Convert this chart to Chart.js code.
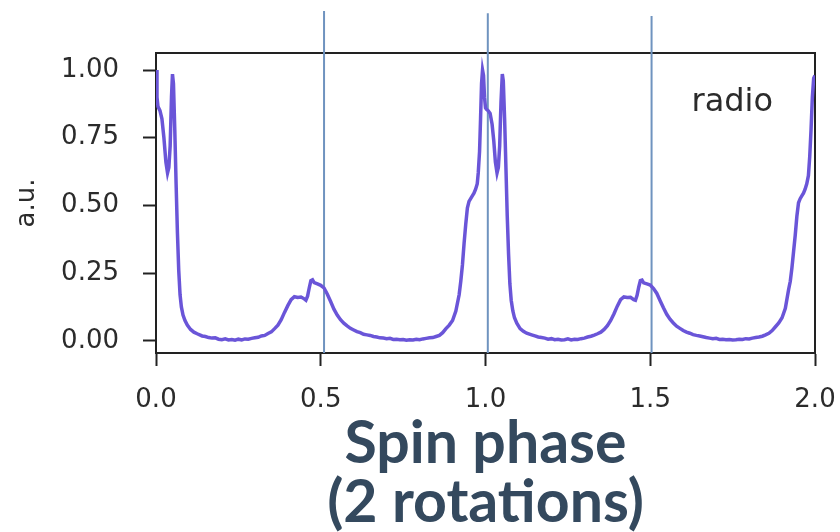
<!DOCTYPE html>
<html>
<head>
<meta charset="utf-8">
<script src="https://cdn.jsdelivr.net/npm/chart.js@4.4.1/dist/chart.umd.min.js"></script>
<style>
    body { margin: 0; background: #fff; }
    canvas { display: block; }
</style>
</head>
<body>
<canvas id="radioChart" width="840" height="532"></canvas>
<script>
// spin phase (two rotations) and the radio pulse profile
const phase = [
    0.000, 0.003, 0.006, 0.012, 0.018, 0.024, 0.030, 0.035, 0.039, 0.043, 0.047, 0.050, 0.053, 0.057,
    0.061, 0.065, 0.069, 0.073, 0.077, 0.082, 0.088, 0.095, 0.105, 0.115, 0.125, 0.14, 0.15, 0.16,
    0.17, 0.18, 0.19, 0.20, 0.21, 0.22, 0.23, 0.24, 0.25, 0.26, 0.27, 0.28, 0.29, 0.30, 0.31, 0.32,
    0.33, 0.34, 0.35, 0.36, 0.37, 0.38, 0.39, 0.40, 0.41, 0.42, 0.43, 0.44, 0.45, 0.455, 0.46, 0.465,
    0.47, 0.475, 0.48, 0.49, 0.50, 0.51, 0.52, 0.53, 0.54, 0.55, 0.56, 0.57, 0.58, 0.59, 0.60, 0.61,
    0.62, 0.63, 0.64, 0.65, 0.66, 0.67, 0.68, 0.69, 0.70, 0.71, 0.72, 0.73, 0.74, 0.75, 0.76, 0.77,
    0.78, 0.79, 0.80, 0.81, 0.82, 0.83, 0.84, 0.85, 0.86, 0.87, 0.88, 0.89, 0.90, 0.91, 0.92, 0.925,
    0.93, 0.935, 0.94, 0.945, 0.950, 0.955, 0.960, 0.965, 0.970, 0.975, 0.978, 0.982, 0.985, 0.988,
    0.991, 0.994, 0.997, 1.000,
    1.003, 1.008, 1.014, 1.020, 1.025, 1.030, 1.035, 1.039, 1.043, 1.047, 1.051, 1.054, 1.058, 1.062,
    1.066, 1.070, 1.074, 1.078, 1.083, 1.088, 1.095, 1.105, 1.115, 1.125, 1.14, 1.15, 1.16, 1.17,
    1.18, 1.19, 1.20, 1.21, 1.22, 1.23, 1.24, 1.25, 1.26, 1.27, 1.28, 1.29, 1.30, 1.31, 1.32, 1.33,
    1.34, 1.35, 1.36, 1.37, 1.38, 1.39, 1.40, 1.41, 1.42, 1.43, 1.44, 1.45, 1.455, 1.46, 1.465, 1.47,
    1.475, 1.48, 1.49, 1.50, 1.51, 1.52, 1.53, 1.54, 1.55, 1.56, 1.57, 1.58, 1.59, 1.60, 1.61, 1.62,
    1.63, 1.64, 1.65, 1.66, 1.67, 1.68, 1.69, 1.70, 1.71, 1.72, 1.73, 1.74, 1.75, 1.76, 1.77, 1.78,
    1.79, 1.80, 1.81, 1.82, 1.83, 1.84, 1.85, 1.86, 1.87, 1.88, 1.89, 1.90, 1.91, 1.92, 1.925, 1.93,
    1.935, 1.94, 1.945, 1.950, 1.955, 1.960, 1.965, 1.970, 1.975, 1.980, 1.984, 1.988, 1.992, 1.996,
    2.000
];
const radio = [
    1.00, 0.90, 0.865, 0.85, 0.82, 0.75, 0.66, 0.62, 0.64, 0.72, 0.90, 0.985, 0.95, 0.78,
    0.58, 0.40, 0.26, 0.17, 0.125, 0.095, 0.075, 0.058, 0.042, 0.032, 0.026, 0.018, 0.016, 0.012,
    0.010, 0.011, 0.006, 0.004, 0.007, 0.003, 0.005, 0.002, 0.006, 0.003, 0.007, 0.006, 0.009, 0.011, 0.013, 0.018,
    0.020, 0.027, 0.033, 0.045, 0.058, 0.078, 0.105, 0.13, 0.152, 0.163, 0.160, 0.162, 0.155, 0.150, 0.165, 0.195,
    0.222, 0.225, 0.215, 0.210, 0.205, 0.195, 0.172, 0.145, 0.117, 0.095, 0.078, 0.065, 0.055, 0.046, 0.040, 0.034,
    0.030, 0.024, 0.022, 0.020, 0.016, 0.014, 0.011, 0.010, 0.008, 0.009, 0.005, 0.006, 0.004, 0.005, 0.002, 0.004,
    0.003, 0.006, 0.004, 0.007, 0.009, 0.011, 0.012, 0.016, 0.020, 0.030, 0.045, 0.058, 0.075, 0.11, 0.17, 0.22,
    0.28, 0.36, 0.43, 0.49, 0.515, 0.525, 0.535, 0.545, 0.56, 0.58, 0.62, 0.70, 0.82, 0.95,
    1.00, 0.98, 0.90, 0.86,
    0.855, 0.85, 0.84, 0.80, 0.74, 0.66, 0.62, 0.64, 0.72, 0.88, 0.985, 0.96, 0.82, 0.64,
    0.46, 0.32, 0.21, 0.15, 0.11, 0.085, 0.065, 0.045, 0.035, 0.028, 0.022, 0.018, 0.014, 0.012,
    0.010, 0.006, 0.008, 0.004, 0.006, 0.003, 0.004, 0.007, 0.003, 0.006, 0.005, 0.008, 0.010, 0.014, 0.017, 0.021,
    0.026, 0.032, 0.042, 0.056, 0.075, 0.10, 0.128, 0.152, 0.162, 0.160, 0.161, 0.152, 0.150, 0.168, 0.198, 0.222,
    0.224, 0.214, 0.210, 0.206, 0.193, 0.175, 0.148, 0.122, 0.098, 0.080, 0.066, 0.054, 0.046, 0.038, 0.032, 0.028,
    0.023, 0.020, 0.018, 0.015, 0.012, 0.010, 0.008, 0.009, 0.005, 0.006, 0.004, 0.005, 0.003, 0.004, 0.006, 0.005,
    0.008, 0.007, 0.010, 0.012, 0.014, 0.017, 0.022, 0.028, 0.038, 0.052, 0.066, 0.085, 0.12, 0.19, 0.22, 0.27,
    0.33, 0.39, 0.46, 0.51, 0.525, 0.535, 0.545, 0.56, 0.58, 0.61, 0.68, 0.78, 0.90, 0.97,
    0.98
];

// half-rotation markers drawn over the plot (where they sit in the picture)
const markerPhase = [0.51, 1.007, 1.504];
const markerTop = [1.218, 1.21, 1.20];

const xTicks = [0, 0.5, 1.0, 1.5, 2.0];
const yTicks = [0, 0.25, 0.5, 0.75, 1.0];
const Y_MIN = -0.045, Y_MAX = 1.063;

const AXIS_COLOR = '#222';
const TEXT_COLOR = '#2b2b2b';

const markerSets = markerPhase.map((p, i) => ({
    data: [{ x: p, y: Y_MIN }, { x: p, y: markerTop[i] }],
    borderColor: '#6f93bf',
    borderWidth: 2,
    pointRadius: 0,
    clip: false
}));

// matplotlib style closed frame
const framePlugin = {
    id: 'frame',
    beforeDatasetsDraw(chart) {
        const { ctx, chartArea: a } = chart;
        ctx.save();
        ctx.strokeStyle = AXIS_COLOR;
        ctx.lineWidth = 2;
        ctx.strokeRect(a.left, a.top, a.right - a.left, a.bottom - a.top);
        ctx.restore();
    }
};

// the "radio" tag in the upper right corner
const labelPlugin = {
    id: 'radioLabel',
    afterDraw(chart) {
        const { ctx, scales } = chart;
        ctx.save();
        ctx.font = "32px 'DejaVu Sans'";
        ctx.fillStyle = TEXT_COLOR;
        ctx.textAlign = 'center';
        ctx.textBaseline = 'middle';
        ctx.fillText('radio', scales.x.getPixelForValue(1.749), scales.y.getPixelForValue(0.878));
        ctx.restore();
    }
};

new Chart(document.getElementById('radioChart'), {
    type: 'line',
    data: {
        datasets: [{
            data: phase.map((p, i) => ({ x: p, y: radio[i] })),
            borderColor: '#6a55d8',
            borderWidth: 3.5,
            pointRadius: 0,
            tension: 0
        }, ...markerSets]
    },
    options: {
        responsive: false,
        animation: false,
        layout: { padding: { top: 53, right: 25, left: 0, bottom: 0 } },
        plugins: {
            legend: { display: false },
            tooltip: { enabled: false }
        },
        scales: {
            x: {
                type: 'linear',
                min: 0,
                max: 2,
                afterBuildTicks: s => { s.ticks = xTicks.map(v => ({ value: v })); },
                afterFit: s => {
                    s.height = 179;
                    // keep the tick label overhang from shrinking the plot
                    s.paddingLeft = 0;
                    s.paddingRight = 0;
                },
                ticks: {
                    callback: v => v.toFixed(1),
                    color: TEXT_COLOR,
                    font: { family: 'DejaVu Sans', size: 26 },
                    padding: 19,
                    maxRotation: 0
                },
                grid: { drawOnChartArea: false, tickLength: 13, tickColor: AXIS_COLOR, tickWidth: 2 },
                border: { color: AXIS_COLOR, width: 2 },
                title: {
                    display: true,
                    text: ['Spin phase', '(2 rotations)'],
                    color: '#34495e',
                    font: { family: 'Lato', weight: 'bold', size: 59, lineHeight: 1 },
                    padding: { top: 0, bottom: 0 }
                }
            },
            y: {
                min: Y_MIN,
                max: Y_MAX,
                afterBuildTicks: s => { s.ticks = yTicks.map(v => ({ value: v })); },
                afterFit: s => { s.width = 156; },
                ticks: {
                    callback: v => v.toFixed(2),
                    color: TEXT_COLOR,
                    font: { family: 'DejaVu Sans', size: 26 },
                    padding: 24
                },
                grid: { drawOnChartArea: false, tickLength: 13, tickColor: AXIS_COLOR, tickWidth: 2 },
                border: { color: AXIS_COLOR, width: 2 },
                title: {
                    display: true,
                    text: 'a.u.',
                    color: TEXT_COLOR,
                    font: { family: 'DejaVu Sans', size: 26 },
                    padding: { top: 12, bottom: 0 }
                }
            }
        }
    },
    plugins: [framePlugin, labelPlugin]
});
</script>
</body>
</html>
